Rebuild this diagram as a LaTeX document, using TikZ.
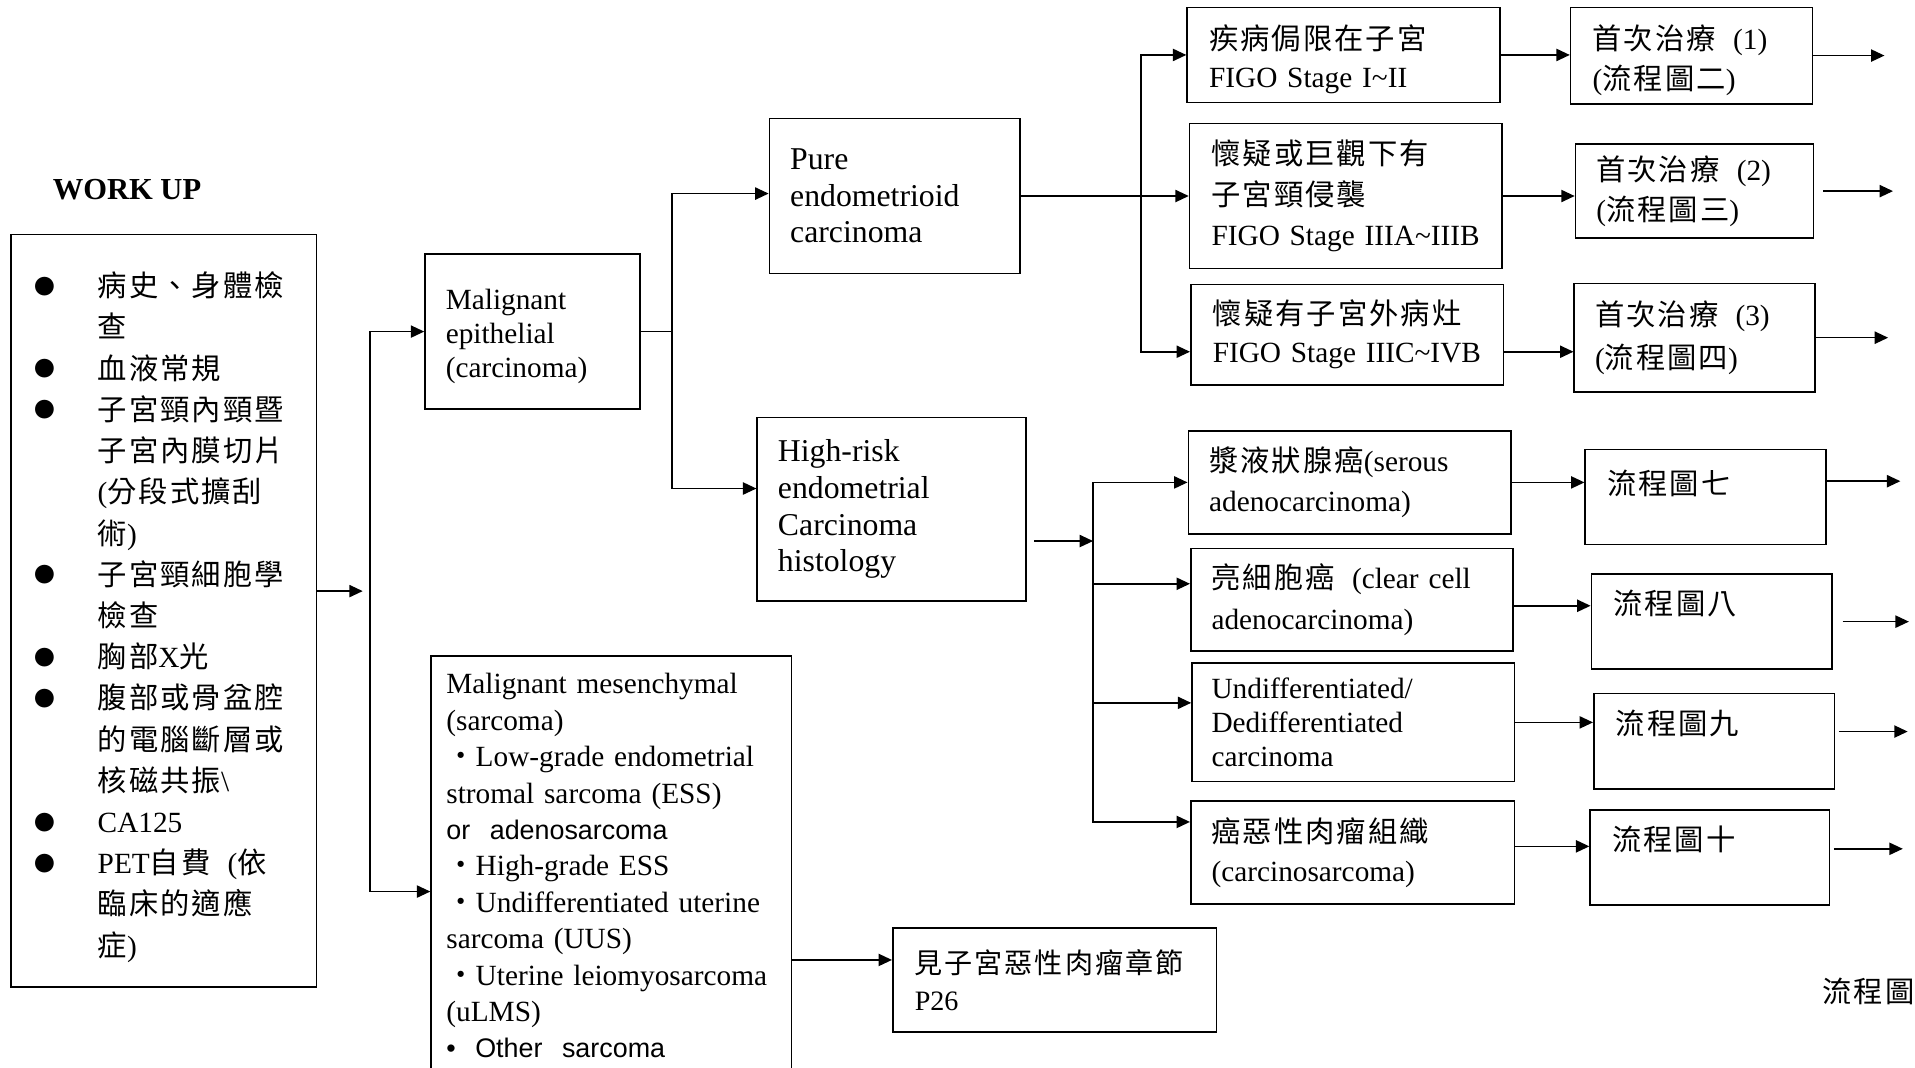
\documentclass[tikz,border=0pt]{standalone}
\usepackage{fontspec}
\setmainfont{Liberation Serif}
\newfontfamily\cjk[LetterSpace=7]{Noto Sans CJK TC}
\newfontfamily\arial{Liberation Sans}
\usetikzlibrary{
  arrows.meta
}
\newcommand{\cjgap}{\hspace{14pt}}
\newcommand{\wkdot}{\makebox[52pt][l]{\raisebox{2pt}{\fontsize{17}{17}\selectfont\cjk ●}}}
\newcommand{\wkind}{\hspace*{52pt}}
\tikzset{
  title/.style={font=\bfseries\fontsize{25}{30}\selectfont, inner sep=0pt},
  pagetag/.style={font=\fontsize{24}{30}\selectfont, inner sep=0pt},
  box/.style={
    draw,
    line width=1.3pt,
    inner sep=0pt,
    align=left,
    font=\fontsize{24}{32}\selectfont
  },
  link/.style={line width=1.3pt},
  arrow/.style={link, -{Triangle[length=11pt,width=10pt]}}
}

\begin{document}
\begin{tikzpicture}[x=1pt,y=-1pt]

\path[use as bounding box, fill=white] (0,0) rectangle (1568,874);

% --------------------------------------------------------------------------
% Work up
% --------------------------------------------------------------------------
\node[title, anchor=west] (worktitle) at (43,155) {WORK UP};

\node[box, minimum width=250pt, minimum height=616pt, text width=212pt,
  font=\fontsize{24}{33.75}\selectfont] (workup) at (134,500) {
  \rule{0pt}{31pt}\wkdot{\cjk 病史、身體檢}\\
  \wkind{\cjk 查}\\
  \wkdot{\cjk 血液常規}\\
  \wkdot{\cjk 子宮頸內頸暨}\\
  \wkind{\cjk 子宮內膜切片}\\
  \wkind({\cjk 分段式擴刮}\\
  \wkind{\cjk 術})\\
  \wkdot{\cjk 子宮頸細胞學}\\
  \wkind{\cjk 檢查}\\
  \wkdot{\cjk 胸部}X{\cjk 光}\\
  \wkdot{\cjk 腹部或骨盆腔}\\
  \wkind{\cjk 的電腦斷層或}\\
  \wkind{\cjk 核磁共振}\textbackslash\\
  \wkdot CA125\\
  \wkdot PET{\cjk 自費}\cjgap({\cjk 依}\\
  \wkind{\cjk 臨床的適應}\\
  \wkind{\cjk 症})
};

% --------------------------------------------------------------------------
% Histology
% --------------------------------------------------------------------------
\node[box, minimum width=176pt, minimum height=127pt, text width=142pt,
  font=\fontsize{24}{28}\selectfont] (epi) at (436,271.5) {
  \rule{0pt}{24.5pt}Malignant\\
  epithelial\\
  (carcinoma)
};

\node[box, minimum width=295pt, minimum height=344pt, text width=270pt,
  font=\fontsize{24}{29.8}\selectfont] (sarc) at (500.5,709) {
  Malignant mesenchymal\\
  (sarcoma)\\
  {\cjk ・}Low-grade endometrial\\
  stromal sarcoma (ESS)\\
  {\arial\fontsize{22}{29.8}\selectfont or\ \ adenosarcoma}\\
  {\cjk ・}High-grade ESS\\
  {\cjk ・}Undifferentiated uterine\\
  sarcoma (UUS)\\
  {\cjk ・}Uterine leiomyosarcoma\\
  (uLMS)\\
  {\arial\fontsize{22}{29.8}\selectfont •\ \ Other\ \ sarcoma}
};

\node[box, minimum width=265pt, minimum height=85pt, text width=229pt,
  font=\fontsize{23}{30}\selectfont] (p26) at (863.5,802.5) {
  {\cjk 見子宮惡性肉瘤章節}\\
  P26
};

\node[box, minimum width=205pt, minimum height=127pt, text width=171pt,
  font=\fontsize{26}{30}\selectfont] (pure) at (732.5,160.5) {
  Pure\\
  endometrioid\\
  carcinoma
};

\node[box, minimum width=220pt, minimum height=150pt, text width=186pt,
  font=\fontsize{26}{30}\selectfont] (hr) at (730,417) {
  High-risk\\
  endometrial\\
  Carcinoma\\
  histology
};

% --------------------------------------------------------------------------
% FIGO stages
% --------------------------------------------------------------------------
\node[box, minimum width=256pt, minimum height=78pt, text width=220pt,
  font=\fontsize{24}{31}\selectfont] (s1) at (1100,45) {
  \rule{0pt}{27pt}{\cjk 疾病侷限在子宮}\\
  FIGO Stage I\textasciitilde II
};

\node[box, minimum width=256pt, minimum height=119pt, text width=220pt,
  font=\fontsize{24}{33}\selectfont] (s2) at (1102,160.5) {
  {\cjk 懷疑或巨觀下有}\\
  {\cjk 子宮頸侵襲}\\
  FIGO Stage IIIA\textasciitilde IIIB
};

\node[box, minimum width=256pt, minimum height=82pt, text width=220pt,
  font=\fontsize{24}{31}\selectfont] (s3) at (1103,274) {
  {\cjk 懷疑有子宮外病灶}\\
  FIGO Stage IIIC\textasciitilde IVB
};

\node[box, minimum width=198pt, minimum height=79pt, text width=162pt,
  font=\fontsize{24}{33}\selectfont] (t1) at (1385,45.5) {
  \rule{0pt}{28pt}{\cjk 首次治療}\cjgap(1)\\
  ({\cjk 流程圖二})
};

\node[box, minimum width=195pt, minimum height=77pt, text width=161pt,
  font=\fontsize{24}{33}\selectfont] (t2) at (1387.5,156.5) {
  {\cjk 首次治療}\cjgap(2)\\
  ({\cjk 流程圖三})
};

\node[box, minimum width=197pt, minimum height=89pt, text width=163pt,
  font=\fontsize{24}{35}\selectfont] (t3) at (1387.5,276.5) {
  {\cjk 首次治療}\cjgap(3)\\
  ({\cjk 流程圖四})
};

% --------------------------------------------------------------------------
% High-risk types
% --------------------------------------------------------------------------
\node[box, minimum width=264pt, minimum height=84pt, text width=230pt,
  font=\fontsize{24}{33}\selectfont] (h1) at (1105,395) {
  {\cjk 漿液狀腺癌}(serous\\
  adenocarcinoma)
};

\node[box, minimum width=264pt, minimum height=84pt, text width=230pt,
  font=\fontsize{24}{33}\selectfont] (h2) at (1107,491) {
  {\cjk 亮細胞癌}\cjgap(clear cell\\
  adenocarcinoma)
};

\node[box, minimum width=264pt, minimum height=97pt, text width=232pt,
  font=\fontsize{24}{28}\selectfont] (h3) at (1108,591.5) {
  Undifferentiated/\\
  Dedifferentiated\\
  carcinoma
};

\node[box, minimum width=265pt, minimum height=84pt, text width=231pt,
  font=\fontsize{24}{32}\selectfont] (h4) at (1107.5,698) {
  {\cjk 癌惡性肉瘤組織}\\
  (carcinosarcoma)
};

\node[box, minimum width=197pt, minimum height=78pt, text width=161pt] (f1) at (1396.5,407) {
  \rule{0pt}{28pt}{\cjk 流程圖七}\\ ~
};

\node[box, minimum width=197pt, minimum height=78pt, text width=161pt] (f2) at (1401.5,509) {
  {\cjk 流程圖八}\\ ~
};

\node[box, minimum width=197pt, minimum height=78pt, text width=161pt] (f3) at (1403.5,607) {
  {\cjk 流程圖九}\\ ~
};

\node[box, minimum width=196pt, minimum height=78pt, text width=160pt] (f4) at (1400,702) {
  {\cjk 流程圖十}\\ ~
};

\node[pagetag, anchor=west] (flowtag) at (1492,812) {\cjk 流程圖};

% --------------------------------------------------------------------------
% Connectors
% --------------------------------------------------------------------------
\coordinate (split1) at (303,484);
\coordinate (split2) at (550,271.5);
\coordinate (split3) at (934,160.5);
\coordinate (split4) at (895,443);

\draw[arrow, shorten >=6pt] (workup.east |- split1) -- (split1);
\draw[arrow] (split1) |- (epi.west);
\draw[arrow] (split1) |- ([yshift=-21pt]sarc.west);

\draw[link] (epi.east) -- (split2);
\draw[arrow] (split2) |- ([yshift=2pt]pure.west);
\draw[arrow] (split2) |- ([yshift=17pt]hr.west);

\draw[link] (pure.east) -- (split3);
\draw[arrow] (split3) |- (s1.west);
\draw[arrow] (split3) |- (s2.west);
\draw[arrow] (split3) |- ([yshift=-14pt]s3.west);

\draw[arrow] (s1.east) -- (s1.east -| t1.west);
\draw[arrow] (s2.east) -- (s2.east -| t2.west);
\draw[arrow] ([yshift=-14pt]s3.east) -- ([yshift=-14pt]s3.east -| t3.west);

\draw[arrow, shorten <=6pt] ([yshift=-26pt]hr.east) -- (split4);
\draw[arrow] (split4) |- (h1.west);
\draw[arrow] (split4) |- ([yshift=13pt]h2.west);
\draw[arrow] (split4) |- ([yshift=16pt]h3.west);
\draw[arrow] (split4) |- ([yshift=25pt]h4.west);

\draw[arrow] (h1.east) -- (h1.east -| f1.west);
\draw[arrow] ([yshift=-5pt]h2.east) -- ([yshift=-5pt]h2.east -| f2.west);
\draw[arrow] (h3.east) -- (h3.east -| f3.west);
\draw[arrow] ([yshift=5pt]h4.east) -- ([yshift=5pt]h4.east -| f4.west);

\draw[arrow] ([yshift=-77pt]sarc.east) -- ([yshift=-77pt]sarc.east -| p26.west);

% outgoing
\coordinate (t1out) at (1543,45.5);
\coordinate (t2out) at (1550,156.5);
\coordinate (t3out) at (1546,276.5);
\coordinate (f1out) at (1556,394);
\coordinate (f2out) at (1563,509);
\coordinate (f3out) at (1562,599);
\coordinate (f4out) at (1558,695);

\draw[arrow] (t1.east) -- (t1out);
\draw[arrow, shorten <=7pt] (t2.east) -- (t2out);
\draw[arrow] (t3.east) -- (t3out);
\draw[arrow] ([yshift=13pt]f1.east) -- (f1out);
\draw[arrow, shorten <=8pt] (f2.east) -- (f2out);
\draw[arrow, shorten <=3pt] ([yshift=8pt]f3.east) -- (f3out);
\draw[arrow, shorten <=3pt] ([yshift=7pt]f4.east) -- (f4out);

\end{tikzpicture}
\end{document}
